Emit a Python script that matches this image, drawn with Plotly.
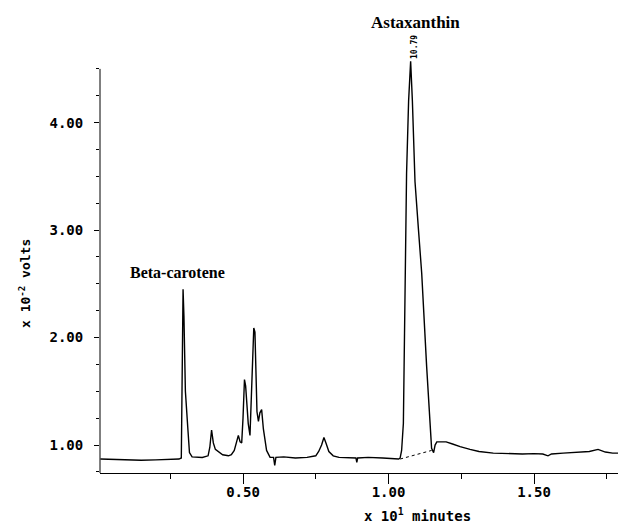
import plotly.graph_objects as go

# Chromatogram trace (x in 10^1 minutes, y in 10^-2 volts)
time_x = [0.01, 0.05, 0.10, 0.15, 0.20, 0.25, 0.28,
          0.288, 0.291, 0.294, 0.297, 0.302, 0.31, 0.316, 0.325, 0.34, 0.36, 0.38,
          0.386, 0.392, 0.398, 0.405, 0.41, 0.43, 0.45, 0.46, 0.47,
          0.478, 0.484, 0.490, 0.4955, 0.500, 0.505, 0.509, 0.513, 0.518, 0.524,
          0.531, 0.537, 0.541, 0.546, 0.548, 0.553, 0.558, 0.564, 0.570, 0.581, 0.593,
          0.605, 0.609, 0.613, 0.64, 0.68, 0.72, 0.75,
          0.76, 0.77, 0.778, 0.785, 0.795, 0.81, 0.83,
          0.888, 0.891, 0.894, 0.93, 0.98, 1.02, 1.035,
          1.040, 1.045, 1.051, 1.057, 1.062, 1.069, 1.076, 1.082, 1.091, 1.103, 1.114, 1.131, 1.142, 1.148,
          1.155, 1.160, 1.166, 1.177, 1.198, 1.22, 1.246, 1.28, 1.311, 1.36, 1.40, 1.46, 1.50, 1.53,
          1.548, 1.56, 1.60, 1.65, 1.69, 1.72, 1.745, 1.77, 1.816]
volts_y = [0.87, 0.866, 0.862, 0.858, 0.862, 0.866, 0.87,
           0.88, 1.5, 2.45, 2.2, 1.5, 1.17, 0.93, 0.89, 0.885, 0.885, 0.9,
           0.98, 1.14, 1.02, 0.96, 0.95, 0.91, 0.9, 0.91, 0.95,
           1.03, 1.09, 1.03, 1.02, 1.25, 1.61, 1.55, 1.39, 1.2, 1.09,
           1.6, 2.09, 2.05, 1.6, 1.31, 1.22, 1.30, 1.33, 1.15, 0.95, 0.885,
           0.885, 0.81, 0.885, 0.89, 0.88, 0.885, 0.9,
           0.94, 1.0, 1.07, 1.02, 0.94, 0.9, 0.885,
           0.88, 0.84, 0.88, 0.885, 0.88, 0.87, 0.87,
           0.88, 0.95, 1.2, 2.35, 3.53, 4.2, 4.57, 4.2, 3.45, 3.0, 2.6, 1.73, 1.2, 0.97,
           0.93, 1.0, 1.03, 1.03, 1.03, 1.01, 0.985, 0.96, 0.94, 0.925, 0.92, 0.917, 0.92, 0.917,
           0.9, 0.917, 0.925, 0.93, 0.94, 0.96, 0.935, 0.925, 0.925]

# Dotted integration baseline under the astaxanthin peak
base_x = [1.040, 1.148]
base_y = [0.87, 0.95]

x_tick_vals = [0.5, 1.0, 1.5]
x_tick_text = ["0.50", "1.00", "1.50"]
y_tick_vals = [1, 2, 3, 4]
y_tick_text = ["1.00", "2.00", "3.00", "4.00"]

mono = "DejaVu Sans Mono"
serif = "Liberation Serif"

fig = go.Figure()
fig.add_trace(go.Scatter(x=time_x, y=volts_y, mode="lines",
                         line=dict(color="black", width=1.4), showlegend=False))
fig.add_trace(go.Scatter(x=base_x, y=base_y, mode="lines",
                         line=dict(color="black", width=1, dash="dot"), showlegend=False))

# page body has an 8px margin, so the figure is 8px smaller and margins shifted
fig.update_layout(
    width=618, height=516,
    margin=dict(l=92, r=0, t=48, b=51, autoexpand=False),
    paper_bgcolor="white", plot_bgcolor="white",
    showlegend=False,
    xaxis=dict(range=[0.0086, 1.816], showgrid=False, zeroline=False,
               showline=True, linecolor="black", linewidth=1,
               tickmode="array", tickvals=x_tick_vals, ticktext=x_tick_text,
               ticks="outside", ticklen=10, tickwidth=1, tickcolor="black",
               minor=dict(dtick=0.25, tick0=0, ticks="outside", ticklen=5,
                          tickcolor="black", showgrid=False),
               ticklabelstandoff=-4,
               tickfont=dict(family=mono, size=14, color="black", weight="bold")),
    yaxis=dict(range=[0.74, 4.62], showgrid=False, zeroline=False, showline=False,
               tickmode="array", tickvals=y_tick_vals, ticktext=y_tick_text,
               ticks="outside", ticklen=5, tickwidth=1, tickcolor="black",
               minor=dict(dtick=0.25, tick0=0, ticks="outside", ticklen=3,
                          tickcolor="black", showgrid=False),
               ticklabelstandoff=8,
               tickfont=dict(family=mono, size=14, color="black", weight="bold")),
)

# y axis line stops at 4.5 like the reference
fig.add_shape(type="line", xref="paper", x0=0, x1=0, yref="y", y0=0.74, y1=4.5,
              line=dict(color="black", width=1))

fig.add_annotation(text="Beta-carotene", x=0.275, y=2.61, xref="x", yref="y",
                   xanchor="center", yanchor="middle",
                   showarrow=False, font=dict(family=serif, size=16, color="black", weight="bold"))
fig.add_annotation(text="Astaxanthin", x=1.091, y=1.08, xref="x", yref="paper",
                   xanchor="center", yanchor="middle",
                   showarrow=False, font=dict(family=serif, size=17, color="black", weight="bold"))
fig.add_annotation(text="10.79", x=1.091, y=1.0216, xref="x", yref="paper", textangle=-90,
                   xanchor="center", yanchor="middle",
                   showarrow=False, font=dict(family=mono, size=8, color="black", weight="bold"))
fig.add_annotation(text="x 10<sup>1</sup> minutes", x=0.6027, y=-0.1, xref="paper", yref="paper",
                   xanchor="center", yanchor="middle",
                   showarrow=False, font=dict(family=mono, size=14, color="black", weight="bold"))
fig.add_annotation(text="x 10<sup>-2</sup> volts", x=-0.1426, y=0.4556, xref="paper", yref="paper",
                   xanchor="center", yanchor="middle",
                   textangle=-90, showarrow=False,
                   font=dict(family=mono, size=13, color="black", weight="bold"))

fig.write_html("out.html")
